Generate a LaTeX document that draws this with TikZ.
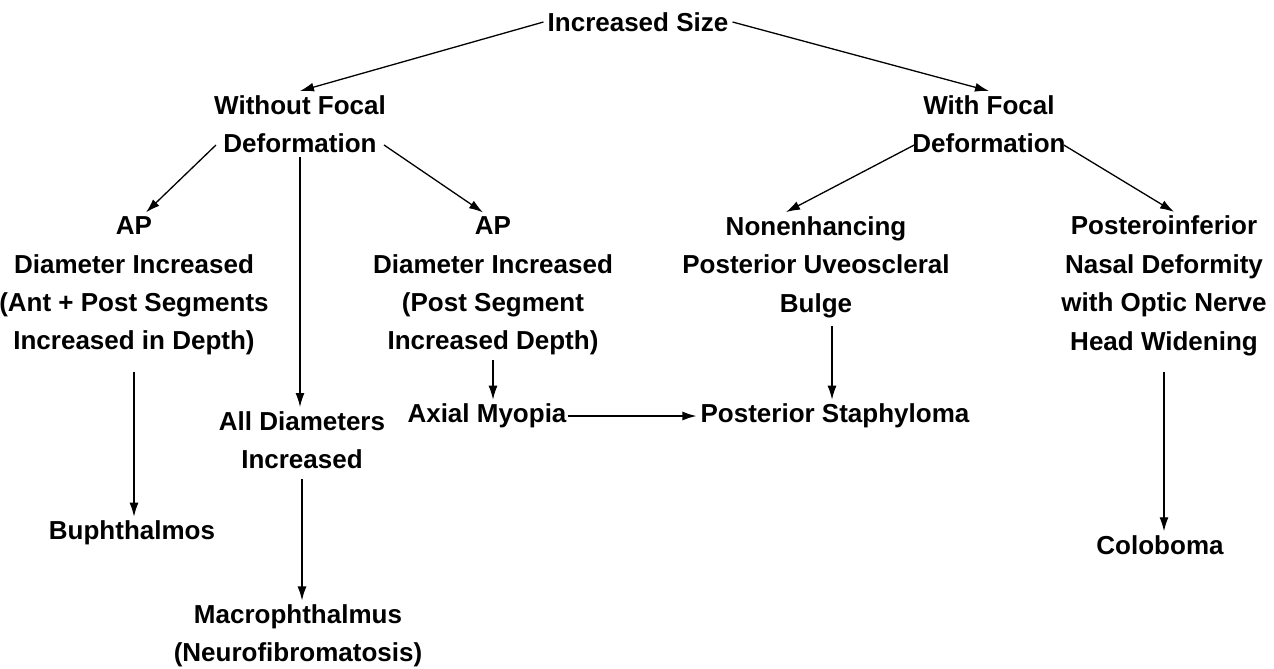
\documentclass[tikz,border=0pt]{standalone}
\usepackage{fontspec}
\setmainfont{Liberation Sans}
\usetikzlibrary{arrows.meta,positioning}
\tikzset{
  lbl/.style={align=center, font=\bfseries\fontsize{26}{38.5}\selectfont, inner sep=4pt},
  arr/.style={-{Latex[length=14pt,width=9pt]}, line width=1.3pt},
}
\begin{document}
\begin{tikzpicture}[x=1pt,y=-1pt]
  \useasboundingbox (0,0) rectangle (1274,669);

  % first level
  \node[lbl] (size) at (638,22) {Increased Size};
  \node[lbl] (without) at (300,124) {Without Focal\\Deformation};
  \node[lbl] (with) at (989,124) {With Focal\\Deformation};

  % second level
  \node[lbl] (apboth) at (134,286) {AP\\Diameter Increased\\(Ant + Post Segments\\Increased in Depth)};
  \node[lbl] (appost) at (493,286) {AP\\Diameter Increased\\(Post Segment\\Increased Depth)};
  \node[lbl] (nonenh) at (816,267) {Nonenhancing\\Posterior Uveoscleral\\Bulge};
  \node[lbl] (postinf) at (1164,286) {Posteroinferior\\Nasal Deformity\\with Optic Nerve\\Head Widening};

  % third level
  \node[lbl] (alldiam) at (302,440) {All Diameters\\Increased};
  \node[lbl] (axial) at (487,416) {Axial Myopia};
  \node[lbl] (staph) at (835,416) {Posterior Staphyloma};
  \node[lbl] (buph) at (132,533) {Buphthalmos};
  \node[lbl] (macro) at (298,636) {Macrophthalmus\\(Neurofibromatosis)};
  \node[lbl] (colob) at (1160,545) {Coloboma};

  \draw[arr] (size.west) -- (without.north);
  \draw[arr] (size.east) -- (with.north);
  \draw[arr] ([xshift=6pt,yshift=12pt]without.south west) -- ([xshift=12pt]apboth.north);
  \draw[arr] (without.south) -- (without.south |- alldiam.north);
  \draw[arr] ([xshift=-6pt,yshift=12pt]without.south east) -- ([xshift=-10pt]appost.north);
  \draw[arr] ([xshift=6pt,yshift=12pt]with.south west) -- ([xshift=-30pt]nonenh.north);
  \draw[arr] ([xshift=-6pt,yshift=12pt]with.south east) -- ([xshift=10pt]postinf.north);

  \draw[arr, shorten <=12pt] (apboth.south) -- (apboth.south |- buph.north);
  \draw[arr] (appost.south) -- (appost.south |- axial.north);
  \draw[arr, shorten <=-3pt] (axial.east) -- (staph.west);
  \draw[arr, shorten <=4pt] ([xshift=16pt]nonenh.south) -- ([xshift=16pt]nonenh.south |- staph.north);
  \draw[arr, shorten <=6pt] (alldiam.south) -- (alldiam.south |- macro.north);
  \draw[arr, shorten <=12pt] (postinf.south) -- (postinf.south |- colob.north);
\end{tikzpicture}
\end{document}
